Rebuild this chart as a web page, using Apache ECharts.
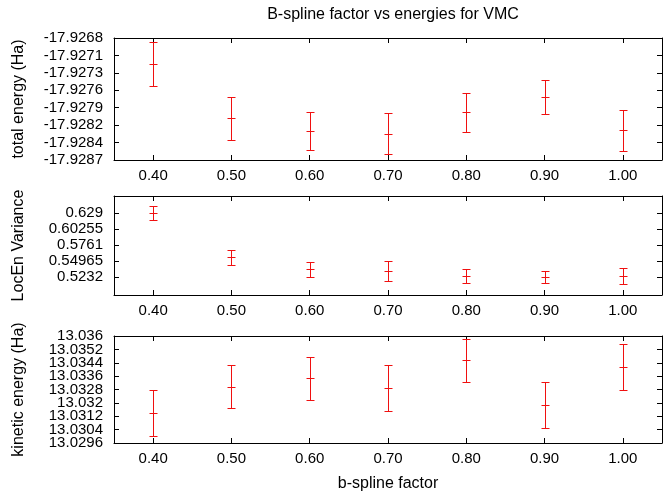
<!DOCTYPE html>
<html>
<head>
<meta charset="utf-8">
<script src="https://cdn.jsdelivr.net/npm/echarts@6/dist/echarts.min.js"></script>
<style>html,body{margin:0;padding:0;background:#fff}#c{width:671px;height:493px}</style>
</head>
<body>
<div id="c"></div>
<script>
// ---- data ----
var bsplineFactor = [0.40, 0.50, 0.60, 0.70, 0.80, 0.90, 1.00];
var xTickLabels = ['0.40', '0.50', '0.60', '0.70', '0.80', '0.90', '1.00'];

var totalEnergy    = [-17.92721, -17.92805, -17.92825, -17.92829, -17.92796, -17.92772, -17.92824];
var totalEnergyErr = [0.000343, 0.000333, 0.000291, 0.000320, 0.000300, 0.000263, 0.000325];

var locEnVariance    = [0.6290, 0.5560, 0.5363, 0.5340, 0.5253, 0.5232, 0.5258];
var locEnVarianceErr = [0.0123, 0.0129, 0.0120, 0.0164, 0.0117, 0.0101, 0.0131];

var kineticEnergy    = [13.03138, 13.03297, 13.03347, 13.03287, 13.03455, 13.03188, 13.03414];
var kineticEnergyErr = [0.00138, 0.00129, 0.00129, 0.00138, 0.00129, 0.00138, 0.00138];

var y1TickValues = [-17.9287, -17.928429, -17.928157, -17.927886, -17.927614, -17.927343, -17.927071, -17.9268];
var y1TickLabels = ['-17.9287', '-17.9284', '-17.9282', '-17.9279', '-17.9276', '-17.9273', '-17.9271', '-17.9268'];
var y2TickValues = [0.5232, 0.54965, 0.5761, 0.60255, 0.629];
var y2TickLabels = ['0.5232', '0.54965', '0.5761', '0.60255', '0.629'];
var y3TickValues = [13.0296, 13.0304, 13.0312, 13.0320, 13.0328, 13.0336, 13.0344, 13.0352, 13.0360];
var y3TickLabels = ['13.0296', '13.0304', '13.0312', '13.032', '13.0328', '13.0336', '13.0344', '13.0352', '13.036'];

// ---- chart ----
var FONT = 'Liberation Sans, Arial, Helvetica, sans-serif';
var TICK_FS = 15, NAME_FS = 16;
var chart = echarts.init(document.getElementById('c'), null, {renderer: 'canvas'});

function labelFor(vals, labs) {
  return function (v) {
    var best = 0, bd = Infinity;
    for (var i = 0; i < vals.length; i++) {
      var d = Math.abs(vals[i] - v);
      if (d < bd) { bd = d; best = i; }
    }
    return labs[best];
  };
}
function pick(arr, parity) {
  return arr.filter(function (_, i) { return i % 2 === parity; });
}

var grids = [
  {left: 114, right: 9, top: 38, height: 122},
  {left: 114, right: 9, top: 196, height: 99},
  {left: 114, right: 9, top: 336, height: 110}
];
var EPS = 1e-9;
var yRanges = [
  {min: y1TickValues[0] - EPS, max: y1TickValues[y1TickValues.length - 1] + EPS, ticks: y1TickValues, labels: y1TickLabels, name: 'total energy (Ha)'},
  {min: 0.4941, max: 0.657, ticks: y2TickValues, labels: y2TickLabels, name: 'LocEn Variance'},
  {min: y3TickValues[0] - EPS, max: y3TickValues[y3TickValues.length - 1] + EPS, ticks: y3TickValues, labels: y3TickLabels, name: 'kinetic energy (Ha)'}
];

var lineStyle = {color: '#000', width: 1};
var xAxes = [], yAxes = [], yExtra = [];
for (var g = 0; g < 3; g++) {
  xAxes.push({
    type: 'value', gridIndex: g, position: 'bottom', min: 0.35, max: 1.05,
    axisLine: {show: true, onZero: false, lineStyle: lineStyle},
    axisTick: {show: true, inside: true, length: 5, lineStyle: lineStyle, customValues: bsplineFactor},
    axisLabel: {show: true, margin: 8, color: '#000', fontFamily: FONT, fontSize: TICK_FS,
      customValues: bsplineFactor, formatter: labelFor(bsplineFactor, xTickLabels)},
    splitLine: {show: false},
    name: g === 2 ? 'b-spline factor' : '', nameLocation: 'middle', nameGap: 33,
    nameTextStyle: {color: '#000', fontFamily: FONT, fontSize: NAME_FS}
  });
  xAxes.push({
    type: 'value', gridIndex: g, position: 'top', min: 0.35, max: 1.05,
    axisLine: {show: true, onZero: false, lineStyle: lineStyle},
    axisTick: {show: true, inside: true, length: 5, lineStyle: lineStyle, customValues: bsplineFactor},
    axisLabel: {show: false},
    splitLine: {show: false}
  });
  var yr = yRanges[g];
  // left axis: line, all ticks, labels at even tick indices
  yAxes.push({
    type: 'value', gridIndex: g, position: 'left', min: yr.min, max: yr.max, scale: true,
    axisLine: {show: true, onZero: false, lineStyle: lineStyle},
    axisTick: {show: true, inside: true, length: 5, lineStyle: lineStyle, customValues: yr.ticks},
    axisLabel: {show: true, margin: 11, color: '#000', fontFamily: FONT, fontSize: TICK_FS,
      showMinLabel: true, showMaxLabel: true,
      customValues: pick(yr.ticks, 0), formatter: labelFor(yr.ticks, yr.labels)},
    splitLine: {show: false},
    name: yr.name, nameLocation: 'middle', nameGap: 87,
    nameTextStyle: {color: '#000', fontFamily: FONT, fontSize: NAME_FS}
  });
  // right mirror axis
  yAxes.push({
    type: 'value', gridIndex: g, position: 'right', min: yr.min, max: yr.max, scale: true,
    axisLine: {show: true, onZero: false, lineStyle: lineStyle},
    axisTick: {show: true, inside: true, length: 5, lineStyle: lineStyle, customValues: yr.ticks},
    axisLabel: {show: false},
    splitLine: {show: false}
  });
  // helper left axis carrying labels at odd tick indices (avoids label thinning)
  yExtra.push({
    type: 'value', gridIndex: g, position: 'left', offset: 0, min: yr.min, max: yr.max, scale: true,
    axisLine: {show: false},
    axisTick: {show: false},
    axisLabel: {show: true, margin: 11, color: '#000', fontFamily: FONT, fontSize: TICK_FS,
      showMinLabel: true, showMaxLabel: true,
      customValues: pick(yr.ticks, 1), formatter: labelFor(yr.ticks, yr.labels)},
    splitLine: {show: false}
  });
}
yAxes = yAxes.concat(yExtra);

function errorBarItem(params, api) {
  var x = api.value(0), y = api.value(1), e = api.value(2);
  var pc = api.coord([x, y]);
  var ph = api.coord([x, y + e]);
  var pl = api.coord([x, y - e]);
  var cx = Math.round(pc[0]) + 0.5;
  var yc = Math.round(pc[1]) + 0.5, yh = Math.round(ph[1]) + 0.5, yl = Math.round(pl[1]) + 0.5;
  var hw = 4;
  function st() { return {stroke: '#f01010', lineWidth: 1, fill: 'none'}; }
  return {
    type: 'group',
    children: [
      {type: 'line', shape: {x1: cx, y1: yh, x2: cx, y2: yl}, style: st()},
      {type: 'line', shape: {x1: cx - hw, y1: yh, x2: cx + hw, y2: yh}, style: st()},
      {type: 'line', shape: {x1: cx - hw, y1: yl, x2: cx + hw, y2: yl}, style: st()},
      {type: 'line', shape: {x1: cx - hw, y1: yc, x2: cx + hw, y2: yc}, style: st()}
    ]
  };
}

function build(vals, errs) {
  var out = [];
  for (var i = 0; i < bsplineFactor.length; i++) out.push([bsplineFactor[i], vals[i], errs[i]]);
  return out;
}

var option = {
  animation: false,
  backgroundColor: '#fff',
  title: {
    text: 'B-spline factor vs energies for VMC',
    left: 388, top: 2, textAlign: 'center',
    textStyle: {color: '#000', fontFamily: FONT, fontSize: NAME_FS, fontWeight: 'normal'}
  },
  grid: grids,
  xAxis: xAxes,
  yAxis: yAxes,
  series: [
    {type: 'custom', xAxisIndex: 0, yAxisIndex: 0, renderItem: errorBarItem,
      encode: {x: 0, y: [1]}, data: build(totalEnergy, totalEnergyErr), clip: false},
    {type: 'custom', xAxisIndex: 2, yAxisIndex: 2, renderItem: errorBarItem,
      encode: {x: 0, y: [1]}, data: build(locEnVariance, locEnVarianceErr), clip: false},
    {type: 'custom', xAxisIndex: 4, yAxisIndex: 4, renderItem: errorBarItem,
      encode: {x: 0, y: [1]}, data: build(kineticEnergy, kineticEnergyErr), clip: false}
  ]
};
chart.setOption(option);
</script>
</body>
</html>
